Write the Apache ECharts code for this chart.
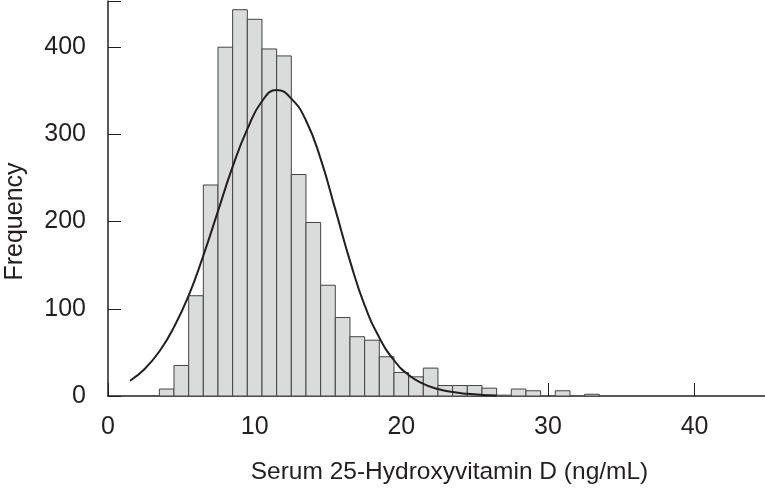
<!DOCTYPE html>
<html>
<head>
<meta charset="utf-8">
<script src="https://cdn.jsdelivr.net/npm/echarts@6.0.0/dist/echarts.min.js"></script>
<style>
  html, body { margin: 0; padding: 0; background: #ffffff; }
  #chart { width: 765px; height: 492px; }
</style>
</head>
<body>
<div id="chart"></div>
<script>
// Histogram bins (bin centers, width 1 ng/mL) and frequencies
const binCenters = [4, 5, 6, 7, 8, 9, 10, 11, 12, 13, 14, 15, 16, 17, 18, 19, 20, 21, 22, 23, 24, 25, 26, 27, 28, 29, 30, 31, 32, 33];
const frequencies = [8, 35, 115, 242, 400, 443, 432, 398, 390, 254, 199, 127, 90, 68, 64, 45, 27, 22, 32, 12, 12, 12, 9, 1, 8, 6, 0, 6, 0, 2];

// Fitted normal curve
const curveX = [1.5, 2.5, 3.5, 4.5, 5.5, 6.5, 7.5, 8.5, 9.5, 10.5, 11.5, 12.5, 13.5, 14.5, 15.5, 16.5, 17.5, 18.5, 19.5, 20.5, 21.5, 22.5, 23.5, 24.5, 25.5, 26.5];
const curveY = [17.5, 31, 51, 79, 115, 161, 212, 263, 306, 338, 351, 341, 316, 272, 214, 155, 104, 67, 41, 24, 14, 8, 4.5, 2.5, 1.2, 0.5];

// Axis ticks
const xTickValues = [0, 10, 20, 30, 40];
const yTickValues = [0, 100, 200, 300, 400];

const FONT = "'Liberation Sans Narrow', 'Liberation Sans', Arial, sans-serif";
const INK = '#231f20';

const chart = echarts.init(document.getElementById('chart'), null, { renderer: 'canvas' });

const histData = binCenters.map((c, i) => [c, frequencies[i]]);
const curveData = curveX.map((x, i) => [x, curveY[i]]);

chart.setOption({
  animation: false,
  backgroundColor: '#ffffff',
  grid: { left: 108, right: 0, top: 1, bottom: 96, containLabel: false, outerBoundsMode: 'none' },
  xAxis: {
    type: 'value',
    min: 0,
    max: 44.8,
    interval: 10,
    name: 'Serum 25-Hydroxyvitamin D (ng/mL)',
    nameLocation: 'middle',
    nameGap: 64,
    nameTextStyle: { fontFamily: FONT, fontSize: 24.5, color: INK, padding: [0, 0, 0, 26] },
    axisLine: { lineStyle: { color: INK, width: 1.5 } },
    axisTick: { show: true, inside: true, length: 13, lineStyle: { color: INK, width: 1 } },
    axisLabel: { fontFamily: FONT, fontSize: 25, color: INK, margin: 19,
      customValues: xTickValues },
    splitLine: { show: false }
  },
  yAxis: {
    type: 'value',
    min: 0,
    max: 453,
    interval: 100,
    name: 'Frequency',
    nameLocation: 'middle',
    nameGap: 80,
    nameTextStyle: { fontFamily: FONT, fontSize: 25, color: INK, padding: [0, 46, 0, 0] },
    axisLine: { show: true, lineStyle: { color: INK, width: 1.5 } },
    axisTick: { show: true, inside: true, length: 13, lineStyle: { color: INK, width: 1 } },
    axisLabel: { fontFamily: FONT, fontSize: 25, color: INK, margin: 22,
      customValues: yTickValues },
    splitLine: { show: false }
  },
  series: [
    {
      type: 'custom',
      name: 'Frequency',
      data: histData,
      encode: { x: 0, y: 1 },
      renderItem: function (params, api) {
        const c = api.value(0);
        const v = api.value(1);
        if (!v) return null;
        const p0 = api.coord([c - 0.5, 0]);
        const p1 = api.coord([c + 0.5, v]);
        return {
          type: 'rect',
          shape: { x: p0[0], y: p1[1], width: p1[0] - p0[0], height: p0[1] - p1[1] },
          style: { fill: '#dadbdb', stroke: '#444444', lineWidth: 1 }
        };
      },
      z: 2
    },
    {
      type: 'line',
      name: 'Normal',
      data: curveData,
      smooth: true,
      symbol: 'none',
      lineStyle: { color: INK, width: 2 },
      z: 3
    }
  ]
});
</script>
</body>
</html>
